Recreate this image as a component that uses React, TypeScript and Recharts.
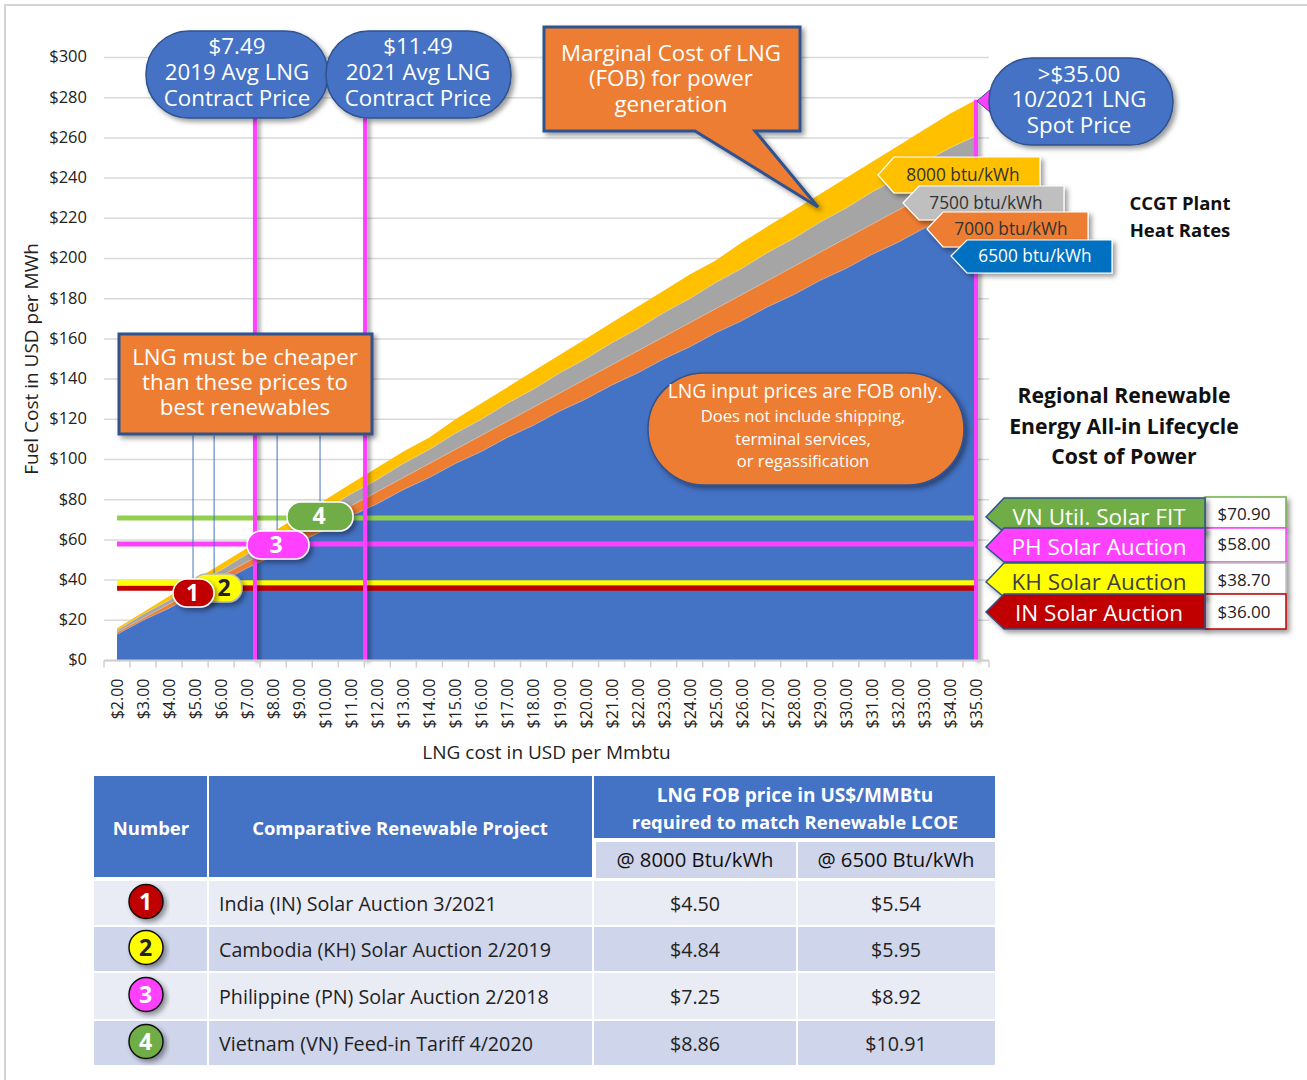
import React from "react";
import { ComposedChart, Area, Line, XAxis, YAxis, CartesianGrid, ReferenceLine } from "recharts";

const FONT = '"Open Sans", sans-serif';

// LNG price categories and fuel cost per heat rate
const lngPrices = [2, 3, 4, 5, 6, 7, 8, 9, 10, 11, 12, 13, 14, 15, 16, 17, 18, 19, 20, 21, 22, 23, 24, 25, 26, 27, 28, 29, 30, 31, 32, 33, 34, 35];
const cost8000 = [16, 24, 32, 40, 48, 56, 64, 72, 80, 88, 96, 104, 111, 120, 128, 136, 144, 152, 160, 168, 176, 184, 192, 199, 208, 216, 224, 232, 240, 248, 256, 264, 272, 279];
const cost7500 = [15, 23, 30, 38, 45, 53, 60, 68, 75, 83, 90, 98, 105, 113, 120, 128, 135, 143, 150, 158, 165, 173, 180, 188, 195, 203, 210, 218, 225, 233, 240, 248, 255, 261];
const cost7000 = [14, 21, 28, 35, 42, 49, 56, 63, 70, 77, 84, 91, 98, 105, 112, 119, 126, 133, 140, 147, 154, 161, 168, 175, 182, 189, 196, 203, 210, 217, 224, 231, 238, 245];
const cost6500 = [13, 20, 26, 33, 39, 46, 52, 59, 65, 72, 78, 85, 91, 98, 104, 111, 117, 124, 130, 137, 143, 150, 156, 163, 169, 176, 182, 189, 195, 202, 208, 215, 221, 228];

const yTicks = [0, 20, 40, 60, 80, 100, 120, 140, 160, 180, 200, 220, 240, 260, 280, 300];

// renewable price rules
const rateVN = 70.9;
const ratePH = 58;
const rateKH = 38.7;
const rateIN = 36;

// where the markers sit on the x axis in the picture
const priceMarkers = [
  { x: 7.3, top: 270 },
  { x: 11.53, top: 270 },
  { x: 35, top: 279 },
];
const matchDrops = [
  { x: 4.92, low: 41, high: 112 },
  { x: 5.73, low: 43, high: 112 },
  { x: 8.15, low: 65, high: 112 },
  { x: 9.8, low: 79, high: 112 },
];

const rows = lngPrices.map((price, i) => ({
  price,
  h8000: cost8000[i],
  h7500: cost7500[i],
  h7000: cost7000[i],
  h6500: cost6500[i],
  vn: rateVN,
  ph: ratePH,
  kh: rateKH,
  in: rateIN,
}));

// table
const tableNumbers = ["1", "2", "3", "4"];
const tableProjects = [
  "India (IN) Solar Auction 3/2021",
  "Cambodia (KH) Solar Auction 2/2019",
  "Philippine (PN) Solar Auction 2/2018",
  "Vietnam (VN) Feed-in Tariff 4/2020",
];
const tablePrices8000 = ["$4.50", "$4.84", "$7.25", "$8.86"];
const tablePrices6500 = ["$5.54", "$5.95", "$8.92", "$10.91"];
const badgeColors = ["#C00000", "#FFFF00", "#FF40FF", "#70AD47"];
const badgeText = ["#fff", "#222", "#fff", "#fff"];
const rowTops = [881, 927, 973, 1021];
const rowBottoms = [925, 971, 1019, 1065];
const rowFills = ["#E9EBF5", "#CFD5EA", "#E9EBF5", "#CFD5EA"];

const XTick = (props: any) => {
  const { x, y, payload, index } = props;
  return (
    <g>
      <line x1={x - 13} x2={x - 13} y1={y - 8} y2={y - 1} stroke="#d0d0d0" strokeWidth={1.5} />
      {payload.value === 35 && <line x1={x + 13} x2={x + 13} y1={y - 8} y2={y - 1} stroke="#d0d0d0" strokeWidth={1.5} />}
      <text
        key={index}
        x={0}
        y={0}
        transform={`translate(${x + 6},${y + 10}) rotate(-90)`}
        textAnchor="end"
        fontSize={16}
        fontFamily={FONT}
        fill="#222"
      >
        {`$${payload.value.toFixed(2)}`}
      </text>
    </g>
  );
};

const Lines = ({ x, ys, size = 22.3, fill = "#fff", weight = 400 }: any) => (
  <>
    {ys.map((item: [number, string], i: number) => (
      <text key={i} x={x} y={item[0]} textAnchor="middle" fontSize={size} fontWeight={weight} fill={fill} fontFamily={FONT}>
        {item[1]}
      </text>
    ))}
  </>
);

const heatTags = [
  { tip: 878, mid: 175, top: 157, bottom: 193, right: 1040, fill: "#FFC000", color: "#333", label: "8000 btu/kWh", cx: 963 },
  { tip: 903, mid: 203, top: 186, bottom: 220, right: 1064, fill: "#BFBFBF", color: "#333", label: "7500 btu/kWh", cx: 986 },
  { tip: 927, mid: 229, top: 212, bottom: 247, right: 1088, fill: "#ED7D31", color: "#333", label: "7000 btu/kWh", cx: 1011 },
  { tip: 951, mid: 256, top: 240, bottom: 273, right: 1112, fill: "#0070C0", color: "#fff", label: "6500 btu/kWh", cx: 1035 },
];

const solarTags = [
  { mid: 517, top: 498, bottom: 532, fill: "#70AD47", color: "#fff", label: "VN Util. Solar FIT", base: 525 },
  { mid: 547, top: 528, bottom: 562, fill: "#FF40FF", color: "#fff", label: "PH Solar Auction", base: 555 },
  { mid: 582, top: 563, bottom: 597, fill: "#FFFF00", color: "#404040", label: "KH Solar Auction", base: 590 },
  { mid: 612, top: 594, bottom: 629, fill: "#C00000", color: "#fff", label: "IN Solar Auction", base: 621 },
];

const valueBoxes = [
  { top: 497, bottom: 528, stroke: "#70AD47", label: "$70.90", base: 520 },
  { top: 528, bottom: 562, stroke: "#FF40FF", label: "$58.00", base: 550 },
  { top: 563, bottom: 594, stroke: "#BFBFBF", label: "$38.70", base: 586 },
  { top: 594, bottom: 629, stroke: "#C00000", label: "$36.00", base: 618 },
];

const pills = [
  { x: 192, y: 574, w: 50, h: 28, fill: "#FFFF00", stroke: "#bbb", color: "#222", label: "2", cx: 224 },
  { x: 173, y: 579, w: 41, h: 28, fill: "#C00000", stroke: "#fff", color: "#fff", label: "1", cx: 192.5 },
  { x: 287, y: 502, w: 66, h: 29, fill: "#70AD47", stroke: "#fff", color: "#fff", label: "4", cx: 319 },
  { x: 247, y: 531, w: 62, h: 28, fill: "#FF40FF", stroke: "#fff", color: "#fff", label: "3", cx: 276 },
];

const Overlay = () => (
  <svg width={1307} height={1080} style={{ position: "absolute", left: 0, top: 0 }}>
    <defs>
      <filter id="shadow" x="-20%" y="-20%" width="140%" height="150%">
        <feDropShadow dx={3} dy={3} stdDeviation={2.5} floodColor="#000" floodOpacity={0.4} />
      </filter>
    </defs>

    {/* price bubbles */}
    <rect x={146} y={31} width={182} height={87} rx={43} fill="#4472C4" stroke="#2F528F" strokeWidth={1.5} filter="url(#shadow)" />
    <Lines x={237} ys={[[54, "$7.49"], [80, "2019 Avg LNG"], [106, "Contract Price"]]} />
    <rect x={326} y={31} width={185} height={87} rx={43} fill="#4472C4" stroke="#2F528F" strokeWidth={1.5} filter="url(#shadow)" />
    <Lines x={418} ys={[[54, "$11.49"], [80, "2021 Avg LNG"], [106, "Contract Price"]]} />
    <path d="M977 101 L991 89 L991 113 Z" fill="#FF40FF" stroke="#2F528F" strokeWidth={1} />
    <rect x={989} y={58} width={184} height={87} rx={43} fill="#4472C4" stroke="#2F528F" strokeWidth={1.5} filter="url(#shadow)" />
    <Lines x={1079} ys={[[82, ">$35.00"], [107, "10/2021 LNG"], [133, "Spot Price"]]} />

    {/* callouts */}
    <path d="M544 27 H800 V131 H755 L818 207 L695 131 H544 Z" fill="#ED7D31" stroke="#2F528F" strokeWidth={3} filter="url(#shadow)" />
    <Lines x={671} ys={[[61, "Marginal Cost of LNG"], [86, "(FOB) for power"], [112, "generation"]]} />
    <rect x={119} y={334} width={253} height={100} fill="#ED7D31" stroke="#2F528F" strokeWidth={3} filter="url(#shadow)" />
    <Lines x={245} ys={[[365, "LNG must be cheaper"], [390, "than these prices to"], [415, "best renewables"]]} />
    <rect x={648} y={373} width={316} height={112} rx={56} fill="#ED7D31" stroke="#2F528F" strokeWidth={1.5} filter="url(#shadow)" />
    <Lines x={805} size={19.3} ys={[[398, "LNG input prices are FOB only."]]} />
    <Lines x={803} size={16.6} ys={[[422, "Does not include shipping,"], [445, "terminal services,"], [467, "or regassification"]]} />

    {/* heat rate tags */}
    {heatTags.map((t) => (
      <g key={t.label}>
        <path
          d={`M${t.tip} ${t.mid} L${t.tip + 16} ${t.top} H${t.right} V${t.bottom} H${t.tip + 16} Z`}
          fill={t.fill}
          stroke="#fff"
          strokeWidth={1.2}
          filter="url(#shadow)"
        />
        <text x={t.cx} y={t.mid + 6} textAnchor="middle" fontSize={17.3} fill={t.color} fontFamily={FONT}>
          {t.label}
        </text>
      </g>
    ))}
    <Lines x={1180} size={18.5} weight={700} fill="#111" ys={[[210, "CCGT Plant"], [237, "Heat Rates"]]} />
    <Lines x={1124} size={21.2} weight={700} fill="#111" ys={[[403, "Regional Renewable"], [434, "Energy All-in Lifecycle"], [464, "Cost of Power"]]} />

    {/* renewable value boxes and tags */}
    {valueBoxes.map((b) => (
      <g key={b.label}>
        <rect x={1205} y={b.top} width={81} height={b.bottom - b.top} fill="#fff" stroke={b.stroke} strokeWidth={1.5} filter="url(#shadow)" />
        <text x={1244} y={b.base} textAnchor="middle" fontSize={17} fill="#222" fontFamily={FONT}>
          {b.label}
        </text>
      </g>
    ))}
    {solarTags.map((t) => (
      <g key={t.label}>
        <path
          d={`M986 ${t.mid} L1004 ${t.top} H1205 V${t.bottom} H1004 Z`}
          fill={t.fill}
          stroke="#2F528F"
          strokeWidth={1.5}
          filter="url(#shadow)"
        />
        <text x={1099} y={t.base} textAnchor="middle" fontSize={22.5} fill={t.color} fontFamily={FONT}>
          {t.label}
        </text>
      </g>
    ))}

    {/* numbered pills */}
    {pills.map((p) => (
      <g key={p.label}>
        <rect x={p.x} y={p.y} width={p.w} height={p.h} rx={14} fill={p.fill} stroke={p.stroke} strokeWidth={1.5} filter="url(#shadow)" />
        <text x={p.cx} y={p.y + 22} textAnchor="middle" fontSize={23} fontWeight={700} fill={p.color} fontFamily={FONT}>
          {p.label}
        </text>
      </g>
    ))}

    {/* table header */}
    <rect x={94} y={776} width={113} height={101} fill="#4472C4" />
    <rect x={209} y={776} width={383} height={101} fill="#4472C4" />
    <rect x={594} y={776} width={401} height={62} fill="#4472C4" />
    <rect x={596} y={842} width={200} height={36} fill="#CFD5EA" />
    <rect x={798} y={842} width={197} height={36} fill="#CFD5EA" />
    <Lines x={151} size={18.5} weight={700} ys={[[835, "Number"]]} />
    <Lines x={400} size={18.5} weight={700} ys={[[835, "Comparative Renewable Project"]]} />
    <Lines x={795} size={19} weight={700} ys={[[802, "LNG FOB price in US$/MMBtu"]]} />
    <Lines x={795} size={18.5} weight={700} ys={[[829, "required to match Renewable LCOE"]]} />
    <Lines x={695} size={20.3} fill="#111" ys={[[867, "@ 8000 Btu/kWh"]]} />
    <Lines x={896} size={20.3} fill="#111" ys={[[867, "@ 6500 Btu/kWh"]]} />

    {/* table rows */}
    {tableProjects.map((project, i) => {
      const mid = (rowTops[i] + rowBottoms[i]) / 2;
      const h = rowBottoms[i] - rowTops[i];
      return (
        <g key={project}>
          <rect x={94} y={rowTops[i]} width={113} height={h} fill={rowFills[i]} />
          <rect x={209} y={rowTops[i]} width={383} height={h} fill={rowFills[i]} />
          <rect x={594} y={rowTops[i]} width={202} height={h} fill={rowFills[i]} />
          <rect x={798} y={rowTops[i]} width={197} height={h} fill={rowFills[i]} />
          <circle cx={146} cy={mid - 1.5} r={17} fill={badgeColors[i]} stroke="#111" strokeWidth={1.5} filter="url(#shadow)" />
          <text x={145.5} y={mid + 6.5} textAnchor="middle" fontSize={23} fontWeight={700} fill={badgeText[i]} fontFamily={FONT}>
            {tableNumbers[i]}
          </text>
          <text x={219} y={mid + 7.5} fontSize={19.7} fill="#222" fontFamily={FONT}>
            {project}
          </text>
          <text x={695} y={mid + 7.5} textAnchor="middle" fontSize={19.7} fill="#222" fontFamily={FONT}>
            {tablePrices8000[i]}
          </text>
          <text x={896} y={mid + 7.5} textAnchor="middle" fontSize={19.7} fill="#222" fontFamily={FONT}>
            {tablePrices6500[i]}
          </text>
        </g>
      );
    })}
  </svg>
);

export default function App() {
  return (
    <div style={{ position: "absolute", left: 0, top: 0, width: 1307, height: 1080, background: "#fff", overflow: "hidden", fontFamily: FONT }}>
      <div style={{ position: "absolute", left: 4, top: 4, width: 1303, height: 1076, borderLeft: "2px solid #d4d4d4", borderTop: "2px solid #d4d4d4", boxSizing: "border-box" }} />
      <div style={{ position: "absolute", left: 0, top: 0 }}>
        <ComposedChart width={1307} height={780} data={rows} margin={{ top: 57.5, right: 318, bottom: 0, left: 0 }}>
          <CartesianGrid vertical={false} stroke="#d9d9d9" strokeWidth={1.5} />
          <XAxis
            dataKey="price"
            type="number"
            domain={[1.5, 35.5]}
            ticks={lngPrices}
            interval={0}
            height={119.5}
            stroke="#d0d0d0"
            strokeWidth={2}
            tickLine={false}
            tick={<XTick />}
            label={{ value: "LNG cost in USD per Mmbtu", position: "insideBottom", offset: 21, fontSize: 19, fill: "#222", fontFamily: FONT }}
          />
          <YAxis
            type="number"
            domain={[0, 300]}
            ticks={yTicks}
            interval={0}
            width={104}
            axisLine={false}
            tickLine={false}
            tickSize={0}
            tickMargin={17}
            tickFormatter={(v: number) => `$${v}`}
            tick={{ fontSize: 16.5, fill: "#222", fontFamily: FONT, dy: -1 }}
            label={{ value: "Fuel Cost in USD per MWh", angle: -90, position: "insideLeft", dx: 26, textAnchor: "middle", fontSize: 19, fill: "#222", fontFamily: FONT }}
          />
          <Area dataKey="h8000" type="linear" fill="#FFC000" fillOpacity={1} stroke="none" dot={false} activeDot={false} isAnimationActive={false} />
          <Area dataKey="h7500" type="linear" fill="#A5A5A5" fillOpacity={1} stroke="#ffffff" strokeOpacity={0.5} strokeWidth={0.7} dot={false} activeDot={false} isAnimationActive={false} />
          <Area dataKey="h7000" type="linear" fill="#ED7D31" fillOpacity={1} stroke="#ffffff" strokeOpacity={0.5} strokeWidth={0.7} dot={false} activeDot={false} isAnimationActive={false} />
          <Area dataKey="h6500" type="linear" fill="#4472C4" fillOpacity={1} stroke="#ffffff" strokeOpacity={0.5} strokeWidth={0.7} dot={false} activeDot={false} isAnimationActive={false} />
          <Line dataKey="vn" stroke="#92D050" strokeWidth={5} dot={false} activeDot={false} isAnimationActive={false} />
          <Line dataKey="ph" stroke="#FF40FF" strokeWidth={5} dot={false} activeDot={false} isAnimationActive={false} />
          <Line dataKey="kh" stroke="#FFFF00" strokeWidth={5} dot={false} activeDot={false} isAnimationActive={false} />
          <Line dataKey="in" stroke="#C00000" strokeWidth={5} dot={false} activeDot={false} isAnimationActive={false} />
          {matchDrops.map((d) => (
            <ReferenceLine key={d.x} segment={[{ x: d.x, y: d.low }, { x: d.x, y: d.high }]} stroke="#4472C4" strokeWidth={1} />
          ))}
          {priceMarkers.map((m) => (
            <ReferenceLine
              key={m.x}
              segment={[{ x: m.x, y: 0 }, { x: m.x, y: m.top }]}
              stroke="#FF40FF"
              strokeWidth={4}
              filter="url(#markerShadow)"
            />
          ))}
          <defs>
            <filter id="markerShadow" filterUnits="userSpaceOnUse" x="0" y="0" width="1307" height="780">
              <feDropShadow dx={3} dy={2} stdDeviation={2} floodColor="#000" floodOpacity={0.4} />
            </filter>
          </defs>
        </ComposedChart>
      </div>
      <Overlay />
    </div>
  );
}
